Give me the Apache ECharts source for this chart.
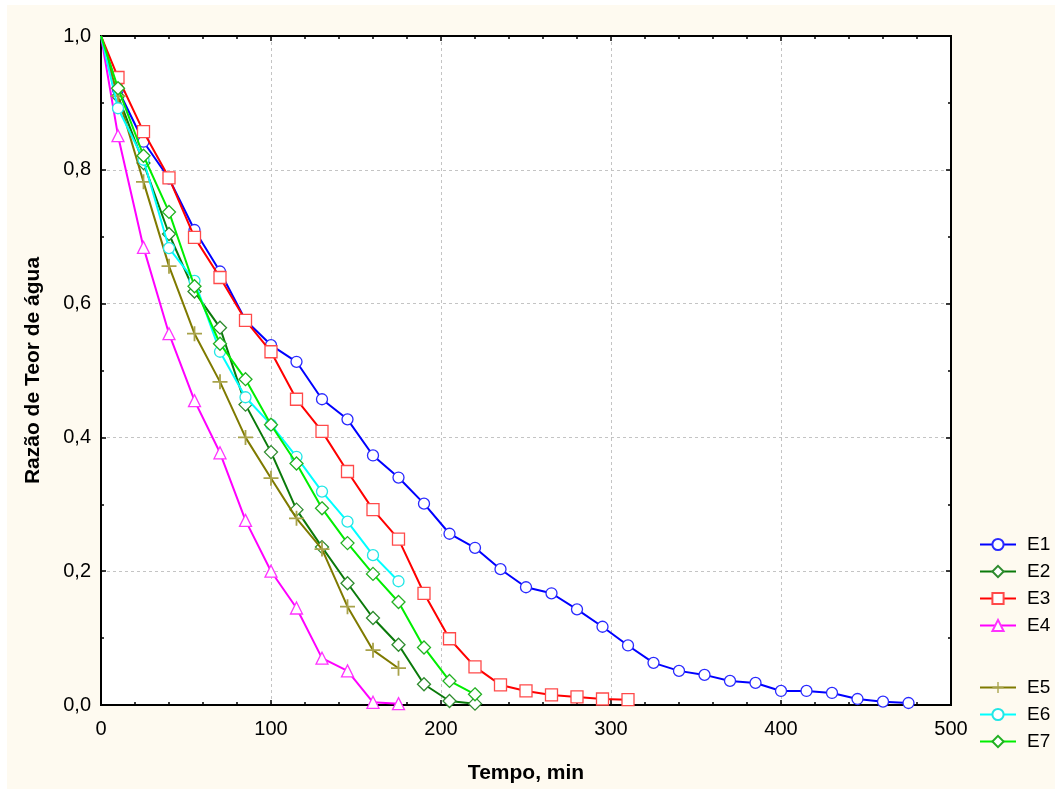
<!DOCTYPE html>
<html>
<head>
<meta charset="utf-8">
<script src="https://cdn.jsdelivr.net/npm/echarts@6/dist/echarts.min.js"></script>
<style>
  html, body { margin: 0; padding: 0; background: #ffffff; }
  #bg { position: absolute; left: 7px; top: 5px; width: 1048px; height: 784px; background: #fefaf0; }
  #chart { position: absolute; left: 0; top: 0; width: 1055px; height: 789px; }
</style>
</head>
<body>
<div id="bg"></div>
<div id="chart"></div>
<script>
// Time (min)
const timeMin = [0, 10, 25, 40, 55, 70, 85, 100, 115, 130, 145, 160, 175, 190, 205, 220, 235, 250, 265, 280, 295, 310, 325, 340, 355, 370, 385, 400, 415, 430, 445, 460, 475];

// Razão de Teor de água per experiment
const E1 = [1.0, 0.92, 0.842, 0.787, 0.71, 0.648, 0.575, 0.538, 0.513, 0.457, 0.427, 0.373, 0.34, 0.301, 0.256, 0.235, 0.203, 0.176, 0.167, 0.143, 0.117, 0.089, 0.063, 0.051, 0.045, 0.036, 0.033, 0.021, 0.021, 0.018, 0.009, 0.005, 0.003];
const E2 = [1.0, 0.91, 0.81, 0.704, 0.618, 0.564, 0.449, 0.378, 0.292, 0.236, 0.182, 0.13, 0.09, 0.031, 0.006, 0.002];
const E3 = [1.0, 0.938, 0.857, 0.788, 0.699, 0.639, 0.575, 0.528, 0.457, 0.409, 0.349, 0.292, 0.248, 0.167, 0.099, 0.057, 0.03, 0.021, 0.015, 0.012, 0.009, 0.008];
const E4 = [1.0, 0.851, 0.684, 0.555, 0.455, 0.377, 0.276, 0.2, 0.145, 0.07, 0.051, 0.004, 0.002];
const E5 = [1.0, 0.91, 0.782, 0.656, 0.555, 0.483, 0.4, 0.339, 0.279, 0.233, 0.147, 0.082, 0.055];
const E6 = [1.0, 0.892, 0.815, 0.683, 0.634, 0.528, 0.46, 0.419, 0.371, 0.319, 0.274, 0.224, 0.185];
const E7 = [1.0, 0.922, 0.821, 0.737, 0.626, 0.54, 0.487, 0.419, 0.361, 0.294, 0.242, 0.196, 0.154, 0.086, 0.036, 0.016];

const seriesNames = ['E1', 'E2', 'E3', 'E4', 'E5', 'E6', 'E7'];
const seriesValues = [E1, E2, E3, E4, E5, E6, E7];
const xTickLabels = ['0', '100', '200', '300', '400', '500'];
const yTickLabels = ['0,0', '0,2', '0,4', '0,6', '0,8', '1,0'];

const styles = {
  E1: { line: '#0000ff', border: '#2a2aff', symbol: 'circle', size: 11 },
  E2: { line: '#0a7a0a', border: '#2e8b2e', symbol: 'diamond', size: 13 },
  E3: { line: '#ff0000', border: '#ff4a4a', symbol: 'rect', size: 12 },
  E4: { line: '#ff00ff', border: '#ff33ff', symbol: 'triangle', size: 12 },
  E5: { line: '#7f7a00', border: '#a8a24a', symbol: 'path://M4.4,0H5.6V4.4H10V5.6H5.6V10H4.4V5.6H0V4.4H4.4Z', size: 15 },
  E6: { line: '#00ffff', border: '#22e6e6', symbol: 'circle', size: 11 },
  E7: { line: '#00ee00', border: '#22b022', symbol: 'diamond', size: 13 }
};

const FONT = 'Liberation Sans, Arial, sans-serif';

const series = seriesNames.map((name, i) => {
  const st = styles[name];
  const isPlus = name === 'E5';
  return {
    name: name,
    type: 'line',
    xAxisIndex: 0,
    yAxisIndex: 0,
    data: seriesValues[i].map((v, k) => (k === 0
      ? { value: [timeMin[k], v], symbol: 'none' }
      : [timeMin[k], v])),
    symbol: st.symbol,
    symbolSize: st.size,
    showAllSymbol: true,
    clip: true,
    lineStyle: { color: st.line, width: 2 },
    itemStyle: isPlus
      ? { color: st.border, borderColor: st.border, borderWidth: 0 }
      : { color: '#ffffff', borderColor: st.border, borderWidth: 1.3 },
    emphasis: { disabled: true },
    animation: false,
    z: 2 + i
  };
});

const chart = echarts.init(document.getElementById('chart'), null, { renderer: 'canvas' });

const legendCommon = {
  orient: 'vertical',
  left: 974,
  itemWidth: 36,
  itemHeight: 14,
  itemGap: 8,
  textStyle: { fontFamily: FONT, fontSize: 19, color: '#000', padding: [0, 0, 0, 6] },
  selectedMode: false
};

chart.setOption({
  animation: false,
  backgroundColor: 'transparent',
  textStyle: { fontFamily: FONT },
  grid: {
    left: 101, top: 36, right: 104, bottom: 84,
    show: true, backgroundColor: '#ffffff', borderColor: '#000', borderWidth: 2,
    containLabel: false
  },
  legend: [
    Object.assign({}, legendCommon, { top: 530, data: ['E1', 'E2', 'E3', 'E4'] }),
    Object.assign({}, legendCommon, { top: 673, data: ['E5', 'E6', 'E7'] })
  ],
  xAxis: [
    {
      type: 'value', min: 0, max: 500, interval: 100, position: 'bottom',
      name: 'Tempo, min', nameLocation: 'middle', nameGap: 58,
      nameTextStyle: { fontFamily: FONT, fontSize: 21, fontWeight: 'bold', color: '#000' },
      axisLine: { show: true, onZero: false, lineStyle: { color: '#000', width: 2 } },
      axisTick: { show: true, inside: true, length: 5, lineStyle: { color: '#000', width: 1.5 } },
      minorTick: { show: true, splitNumber: 5, length: 3, lineStyle: { color: '#000', width: 1.5 } },
      axisLabel: { fontFamily: FONT, fontSize: 20, color: '#000', margin: 14,
        formatter: v => xTickLabels[Math.round(v / 100)] },
      splitLine: { show: true, lineStyle: { color: '#c4c4c4', type: [3, 3], width: 1 } }
    },
    {
      type: 'value', min: 0, max: 500, interval: 100, position: 'top',
      axisLine: { show: true, onZero: false, lineStyle: { color: '#000', width: 2 } },
      axisTick: { show: true, inside: true, length: 5, lineStyle: { color: '#000', width: 1.5 } },
      minorTick: { show: true, splitNumber: 5, length: 3, lineStyle: { color: '#000', width: 1.5 } },
      axisLabel: { show: false },
      splitLine: { show: false }
    }
  ],
  yAxis: [
    {
      type: 'value', min: 0, max: 1, interval: 0.2, position: 'left',
      name: 'Razão de Teor de água', nameLocation: 'middle', nameGap: 57,
      nameTextStyle: { fontFamily: FONT, fontSize: 21, fontWeight: 'bold', color: '#000' },
      axisLine: { show: true, onZero: false, lineStyle: { color: '#000', width: 2 } },
      axisTick: { show: true, inside: true, length: 5, lineStyle: { color: '#000', width: 1.5 } },
      minorTick: { show: true, splitNumber: 2, length: 3, lineStyle: { color: '#000', width: 1.5 } },
      axisLabel: { fontFamily: FONT, fontSize: 20, color: '#000', margin: 10,
        formatter: v => yTickLabels[Math.round(v / 0.2)] },
      splitLine: { show: true, lineStyle: { color: '#c4c4c4', type: [3, 3], width: 1 } }
    },
    {
      type: 'value', min: 0, max: 1, interval: 0.2, position: 'right',
      axisLine: { show: true, onZero: false, lineStyle: { color: '#000', width: 2 } },
      axisTick: { show: true, inside: true, length: 5, lineStyle: { color: '#000', width: 1.5 } },
      minorTick: { show: true, splitNumber: 2, length: 3, lineStyle: { color: '#000', width: 1.5 } },
      axisLabel: { show: false },
      splitLine: { show: false }
    }
  ],
  series: series
});
</script>
</body>
</html>
